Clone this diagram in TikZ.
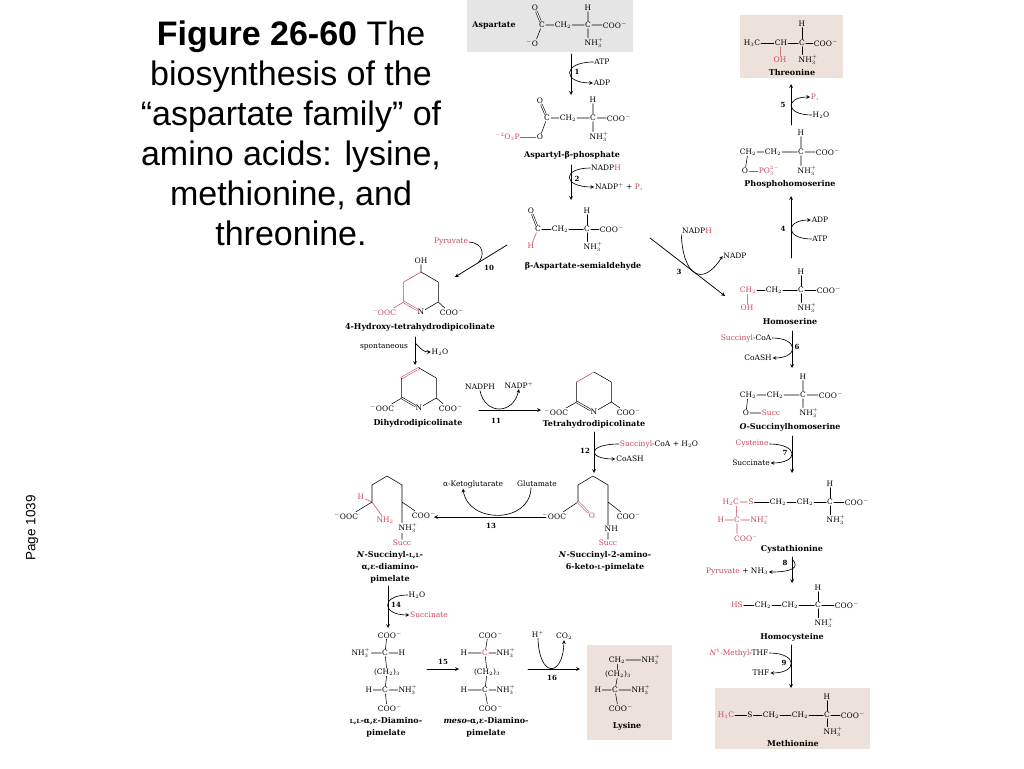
\documentclass[tikz,border=0pt]{standalone}
\usepackage{fontspec}
\setmainfont{DejaVu Serif}
\newfontfamily\titlefont{Liberation Sans}
\definecolor{chemred}{RGB}{201,72,88}
\definecolor{aspgray}{RGB}{229,229,229}
\definecolor{prodtan}{RGB}{236,226,219}
\newcommand{\nhp}{N\rlap{H$_3^+$}}
\newcommand{\coo}{COO\rlap{$^-$}}
\newcommand{\ooc}{\llap{$^-$}OOC}
\newcommand{\lsc}{{\fontsize{5.6}{6}\selectfont L}}
\begin{document}
\begin{tikzpicture}[>=stealth,line cap=round,line join=round,x=1pt,y=-1pt,
	chem/.style={font=\fontsize{7.5}{8}\selectfont,inner sep=0.7pt},
	rd/.style={chem,text=chemred},
	cpd/.style={font=\fontsize{8}{12}\selectfont\bfseries,inner sep=0.5pt,align=center},
	stepno/.style={font=\fontsize{7}{7}\selectfont\bfseries,inner sep=0.5pt},
	bond/.style={line width=0.55pt},
	dbond/.style={bond,double,double distance=1.1pt},
	rxn/.style={->,line width=0.75pt},
	sidearr/.style={->,line width=0.65pt}]
	\fill[white] (0,0) rectangle (1024,768);
	\useasboundingbox (0,0) rectangle (1024,768);
	\node[font=\titlefont\fontsize{34}{40}\selectfont,align=center,anchor=north,inner sep=0pt] (title) at (291,21) {\textbf{Figure 26-60} The\\biosynthesis of the\\“aspartate family” of\\amino acids: lysine,\\methionine, and\\threonine.};
	\node[font=\titlefont\fontsize{13.5}{14}\selectfont,rotate=90] (page) at (32,528) {Page 1039};
	
	\fill[aspgray] (467,0) rectangle (633,52);
	\path
	(494,25) node[cpd] (asp) {Aspartate}
	(542,25) node[chem] (asp-c1) {C}
	(535,8) node[chem] (asp-o1) {O}
	(535,43) node[chem] (asp-o2) {\llap{$^-$}O}
	(563,25) node[chem] (asp-cb) {CH$_2$}
	(588,25) node[chem] (asp-ca) {C}
	(588,8) node[chem] (asp-h) {H}
	(588,43) node[chem] (asp-n) {\nhp}
	(612,25) node[chem] (asp-coo) {\coo}
	;
	\draw[dbond] (asp-c1)--(asp-o1);
	\draw[bond] (asp-c1)--(asp-o2) (asp-c1)--(asp-cb)--(asp-ca)--(asp-coo) (asp-ca)--(asp-h) (asp-ca)--(asp-n);
	
	\path
	(571,54) coordinate (s1a)
	(571,95) coordinate (s1b)
	(602,62) node[chem] (atp1) {ATP}
	(602,83) node[chem] (adp1) {ADP}
	(577,72) node[stepno] (n1) {1}
	;
	\draw[rxn] (s1a)--(s1b);
	\draw[sidearr] (atp1.west) .. controls (562,62) and (562,83) .. (adp1.west);
	
	\path
	(547,118) node[chem] (ap-c1) {C}
	(540,101) node[chem] (ap-o1) {O}
	(540,137) node[chem] (ap-o2) {O}
	(512,137) node[rd] (ap-p) {\llap{$^{-2}$}O$_3$P}
	(568,118) node[chem] (ap-cb) {CH$_2$}
	(593,118) node[chem] (ap-ca) {C}
	(593,100) node[chem] (ap-h) {H}
	(593,137) node[chem] (ap-n) {\nhp}
	(616,118) node[chem] (ap-coo) {\coo}
	(572,155) node[cpd] (ap) {Aspartyl-β-phosphate}
	;
	\draw[dbond] (ap-c1)--(ap-o1);
	\draw[bond] (ap-c1)--(ap-o2) (ap-c1)--(ap-cb)--(ap-ca)--(ap-coo) (ap-ca)--(ap-h) (ap-ca)--(ap-n);
	\draw[bond,chemred] (ap-p)--(ap-o2);
	
	\path
	(571,165) coordinate (s2a)
	(571,200) coordinate (s2b)
	(606,168) node[chem] (nadph2) {NADP\textcolor{chemred}{H}}
	(619,187) node[chem] (nadp2) {NADP$^+$ + \textcolor{chemred}{P$_i$}}
	(577,179) node[stepno] (n2) {2}
	;
	\draw[rxn] (s2a)--(s2b);
	\draw[sidearr] (nadph2.west) .. controls (562,168) and (562,187) .. (nadp2.west);
	
	\path
	(538,229) node[chem] (asa-c1) {C}
	(531,211) node[chem] (asa-o) {O}
	(531,246) node[rd] (asa-h1) {H}
	(560,229) node[chem] (asa-cb) {CH$_2$}
	(587,229) node[chem] (asa-ca) {C}
	(587,211) node[chem] (asa-h) {H}
	(587,247) node[chem] (asa-n) {\nhp}
	(609,229) node[chem] (asa-coo) {\coo}
	(583,266) node[cpd] (asa) {β-Aspartate-semialdehyde}
	;
	\draw[dbond] (asa-c1)--(asa-o);
	\draw[bond] (asa-c1)--(asa-cb)--(asa-ca)--(asa-coo) (asa-ca)--(asa-h) (asa-ca)--(asa-n);
	\draw[bond,chemred] (asa-c1)--(asa-h1);
	
	\path
	(507,245) coordinate (s10a)
	(455,277) coordinate (s10b)
	(478,263) coordinate (s10m)
	(451,242) node[rd] (pyr10) {Pyruvate}
	(489,268) node[stepno] (n10) {10}
	;
	\draw[rxn] (s10a)--(s10b);
	\draw[line width=0.65pt] (pyr10.east) .. controls (484,243) and (485,256) .. (s10m);
	
	\path
	(650,238) coordinate (s3a)
	(725,296) coordinate (s3b)
	(697,231) node[chem] (nadph3) {NADP\textcolor{chemred}{H}}
	(735,256) node[chem] (nadp3) {NADP}
	(679,272) node[stepno] (n3) {3}
	;
	\draw[rxn] (s3a)--(s3b);
	\draw[sidearr] (nadph3.south west) .. controls (683,275) and (702,288) .. (nadp3.west);
	
	\fill[prodtan] (740,15) rectangle (843,78);
	\path
	(752,43) node[chem] (thr-c4) {H$_3$C}
	(781,43) node[chem] (thr-c3) {CH}
	(802,43) node[chem] (thr-ca) {C}
	(802,24) node[chem] (thr-h) {H}
	(823,43) node[chem] (thr-coo) {\coo}
	(780,60) node[rd] (thr-oh) {OH}
	(802,60) node[chem] (thr-n) {\nhp}
	(792,73) node[cpd] (thr) {Threonine}
	;
	\draw[bond] (thr-c4)--(thr-c3)--(thr-ca)--(thr-coo) (thr-ca)--(thr-h) (thr-ca)--(thr-n);
	\draw[bond,chemred] (thr-c3)--(thr-oh);
	
	\path
	(791,125) coordinate (s5a)
	(791,84) coordinate (s5b)
	(815,97) node[rd] (pi5) {P$_i$}
	(821,115) node[chem] (h2o5) {H$_2$O}
	(783,105) node[stepno] (n5) {5}
	;
	\draw[rxn] (s5a)--(s5b);
	\draw[sidearr] (h2o5.west) .. controls (785,115) and (785,97) .. (pi5.west);
	
	\path
	(748,152) node[chem] (phs-cg) {CH$_2$}
	(773,152) node[chem] (phs-cb) {CH$_2$}
	(801,152) node[chem] (phs-ca) {C}
	(801,133) node[chem] (phs-h) {H}
	(825,152) node[chem] (phs-coo) {\coo}
	(745,171) node[chem] (phs-o) {O}
	(769,171) node[rd] (phs-p) {PO$_3^{2-}$}
	(801,171) node[chem] (phs-n) {\nhp}
	(790,184) node[cpd] (phs) {Phosphohomoserine}
	;
	\draw[bond] (phs-cg)--(phs-cb)--(phs-ca)--(phs-coo) (phs-ca)--(phs-h) (phs-ca)--(phs-n) (phs-cg)--(phs-o);
	\draw[bond,chemred] (phs-o)--(phs-p);
	
	\path
	(791,258) coordinate (s4a)
	(791,196) coordinate (s4b)
	(820,220) node[chem] (adp4) {ADP}
	(820,239) node[chem] (atp4) {ATP}
	(783,229) node[stepno] (n4) {4}
	;
	\draw[rxn] (s4a)--(s4b);
	\draw[sidearr] (atp4.west) .. controls (785,239) and (785,220) .. (adp4.west);
	
	\path
	(748,290) node[rd] (hse-cg) {CH$_2$}
	(774,290) node[chem] (hse-cb) {CH$_2$}
	(801,290) node[chem] (hse-ca) {C}
	(801,272) node[chem] (hse-h) {H}
	(826,290) node[chem] (hse-coo) {\coo}
	(747,308) node[rd] (hse-oh) {OH}
	(801,308) node[chem] (hse-n) {\nhp}
	(790,322) node[cpd] (hse) {Homoserine}
	;
	\draw[bond] (hse-cg)--(hse-cb)--(hse-ca)--(hse-coo) (hse-ca)--(hse-h) (hse-ca)--(hse-n);
	\draw[bond,chemred] (hse-cg)--(hse-oh);
	
	\path
	(792,331) coordinate (s6a)
	(792,368) coordinate (s6b)
	(746,338) node[chem] (succoa6) {\textcolor{chemred}{Succinyl}-CoA}
	(758,358) node[chem] (coash6) {CoASH}
	(797,347) node[stepno] (n6) {6}
	;
	\draw[rxn] (s6a)--(s6b);
	\draw[sidearr] (succoa6.east) .. controls (799,338) and (799,358) .. (coash6.east);
	
	\path
	(748,395) node[chem] (osh-cg) {CH$_2$}
	(775,395) node[chem] (osh-cb) {CH$_2$}
	(803,395) node[chem] (osh-ca) {C}
	(803,377) node[chem] (osh-h) {H}
	(828,395) node[chem] (osh-coo) {\coo}
	(746,413) node[chem] (osh-o) {O}
	(771,413) node[rd] (osh-succ) {Succ}
	(803,413) node[chem] (osh-n) {\nhp}
	(790,427) node[cpd] (osh) {\textit{O}-Succinylhomoserine}
	;
	\draw[bond] (osh-cg)--(osh-cb)--(osh-ca)--(osh-coo) (osh-ca)--(osh-h) (osh-ca)--(osh-n) (osh-cg)--(osh-o)--(osh-succ);
	
	\path
	(792,436) coordinate (s7a)
	(792,473) coordinate (s7b)
	(752,444) node[rd] (cys7) {Cysteine}
	(751,463) node[chem] (succ7) {Succinate}
	(785,453) node[stepno] (n7) {7}
	;
	\draw[rxn] (s7a)--(s7b);
	\draw[sidearr] (cys7.east) .. controls (799,444) and (799,463) .. (succ7.east);
	
	\path
	(736,502) node[rd] (cth-c1) {\llap{H$_2$}C}
	(751,502) node[rd] (cth-s) {S}
	(778,502) node[chem] (cth-cb) {CH$_2$}
	(805,502) node[chem] (cth-cg) {CH$_2$}
	(830,502) node[chem] (cth-ca) {C}
	(830,484) node[chem] (cth-h) {H}
	(854,502) node[chem] (cth-coo) {\coo}
	(830,520) node[chem] (cth-n) {\nhp}
	(737,520) node[rd] (cth-c2) {C}
	(721,520) node[rd] (cth-h2) {H}
	(760,520) node[rd] (cth-n2) {NH$_3^+$}
	(737,538) node[rd] (cth-coo2) {C\rlap{OO$^-$}}
	(792,549) node[cpd] (cth) {Cystathionine}
	;
	\draw[bond,chemred] (cth-c1)--(cth-s) (cth-c1)--(cth-c2) (cth-h2)--(cth-c2)--(cth-n2) (cth-c2)--(cth-coo2);
	\draw[bond] (cth-s)--(cth-cb)--(cth-cg)--(cth-ca)--(cth-coo) (cth-ca)--(cth-h) (cth-ca)--(cth-n);
	
	\path
	(792,557) coordinate (s8a)
	(792,583) coordinate (s8b)
	(792,559) coordinate (s8m)
	(737,572) node[chem] (pyr8) {\textcolor{chemred}{Pyruvate} + NH$_3$}
	(785,563) node[stepno] (n8) {8}
	;
	\draw[rxn] (s8a)--(s8b);
	\draw[sidearr] (s8m) .. controls (800,567) and (793,572) .. (pyr8.east);
	
	\path
	(737,605) node[rd] (hcy-hs) {HS}
	(763,605) node[chem] (hcy-cg) {CH$_2$}
	(790,605) node[chem] (hcy-cb) {CH$_2$}
	(818,605) node[chem] (hcy-ca) {C}
	(818,588) node[chem] (hcy-h) {H}
	(844,605) node[chem] (hcy-coo) {\coo}
	(818,623) node[chem] (hcy-n) {\nhp}
	(792,637) node[cpd] (hcy) {Homocysteine}
	;
	\draw[bond] (hcy-hs)--(hcy-cg)--(hcy-cb)--(hcy-ca)--(hcy-coo) (hcy-ca)--(hcy-h) (hcy-ca)--(hcy-n);
	
	\path
	(791,645) coordinate (s9a)
	(791,688) coordinate (s9b)
	(739,653) node[chem] (mthf9) {\textcolor{chemred}{\textit{N}$^5$-Methyl}-THF}
	(761,673) node[chem] (thf9) {THF}
	(784,663) node[stepno] (n9) {9}
	;
	\draw[rxn] (s9a)--(s9b);
	\draw[sidearr] (mthf9.east) .. controls (798,653) and (798,673) .. (thf9.east);
	
	\fill[prodtan] (715,688) rectangle (870,749);
	\path
	(726,715) node[rd] (met-c) {H$_3$C}
	(750,715) node[chem] (met-s) {S}
	(771,715) node[chem] (met-cg) {CH$_2$}
	(800,715) node[chem] (met-cb) {CH$_2$}
	(827,715) node[chem] (met-ca) {C}
	(827,697) node[chem] (met-h) {H}
	(850,715) node[chem] (met-coo) {\coo}
	(827,732) node[chem] (met-n) {\nhp}
	(793,744) node[cpd] (met) {Methionine}
	;
	\draw[bond] (met-c)--(met-s)--(met-cg)--(met-cb)--(met-ca)--(met-coo) (met-ca)--(met-h) (met-ca)--(met-n);
	
	\path
	(421,261) node[chem] (hyd-oh) {OH}
	(421,272) coordinate (hyd-1)
	(403.7,282) coordinate (hyd-2)
	(403.7,302) coordinate (hyd-3)
	(421,312) node[chem] (hyd-n) {N}
	(438.3,302) coordinate (hyd-5)
	(438.3,282) coordinate (hyd-6)
	(387,312) node[rd] (hyd-ooc) {\ooc}
	(449,312) node[chem] (hyd-coo) {\coo}
	(420,327) node[cpd] (hyd) {4-Hydroxy-tetrahydrodipicolinate}
	;
	\draw[bond] (hyd-oh)--(hyd-1)--(hyd-6)--(hyd-5)--(hyd-n) (hyd-5)--(hyd-coo);
	\draw[bond,chemred] (hyd-1)--(hyd-2)--(hyd-3)--(hyd-ooc);
	\draw[dbond,draw=chemred] (hyd-3)--(hyd-n);
	
	\path
	(415,337) coordinate (spo-a)
	(415,365) coordinate (spo-b)
	(415,343) coordinate (spo-m)
	(384,347) node[chem] (spo) {spontaneous}
	(440,352) node[chem] (h2o-spo) {H$_2$O}
	;
	\draw[rxn] (spo-a)--(spo-b);
	\draw[sidearr] (spo-m) .. controls (420,347) and (422,352) .. (h2o-spo.west);
	
	\path
	(419,368) coordinate (dhd-1)
	(401.7,378) coordinate (dhd-2)
	(401.7,398) coordinate (dhd-3)
	(419,408) node[chem] (dhd-n) {N}
	(436.3,398) coordinate (dhd-5)
	(436.3,378) coordinate (dhd-6)
	(385,408) node[chem] (dhd-ooc) {\ooc}
	(448,408) node[chem] (dhd-coo) {\coo}
	(418,423) node[cpd] (dhd) {Dihydrodipicolinate}
	;
	\draw[dbond,draw=chemred] (dhd-1)--(dhd-2);
	\draw[bond] (dhd-2)--(dhd-3)--(dhd-ooc) (dhd-n)--(dhd-5)--(dhd-6)--(dhd-1) (dhd-5)--(dhd-coo);
	\draw[dbond] (dhd-3)--(dhd-n);
	
	\path
	(479,410) coordinate (s11a)
	(541,410) coordinate (s11b)
	(480,387) node[chem] (nadph11) {NADPH}
	(519,385) node[chem] (nadp11) {NADP$^+$}
	(496,421) node[stepno] (n11) {11}
	;
	\draw[rxn] (s11a)--(s11b);
	\draw[sidearr] (nadph11.south) .. controls (485,415) and (513,415) .. (nadp11.south);
	
	\path
	(594,372) coordinate (thd-1)
	(576.7,382) coordinate (thd-2)
	(576.7,402) coordinate (thd-3)
	(594,412) node[chem] (thd-n) {N}
	(611.3,402) coordinate (thd-5)
	(611.3,382) coordinate (thd-6)
	(559,412) node[chem] (thd-ooc) {\ooc}
	(626,412) node[chem] (thd-coo) {\coo}
	(594,424) node[cpd] (thd) {Tetrahydrodipicolinate}
	;
	\draw[bond,chemred] (thd-2)--(thd-1);
	\draw[bond] (thd-1)--(thd-6)--(thd-5)--(thd-n) (thd-2)--(thd-3)--(thd-ooc) (thd-5)--(thd-coo);
	\draw[dbond] (thd-3)--(thd-n);
	
	\path
	(594,432) coordinate (s12a)
	(594,473) coordinate (s12b)
	(659,444) node[chem] (succoa12) {\textcolor{chemred}{Succinyl}-CoA + H$_2$O}
	(630,459) node[chem] (coash12) {CoASH}
	(585,451) node[stepno] (n12) {12}
	;
	\draw[rxn] (s12a)--(s12b);
	\draw[sidearr] (succoa12.west) .. controls (587,444) and (587,459) .. (coash12.west);
	
	\path
	(578,502) coordinate (nsk-1)
	(578,485) coordinate (nsk-2)
	(593,476) coordinate (nsk-3)
	(608,485) coordinate (nsk-4)
	(608,502) coordinate (nsk-5)
	(557,516) node[chem] (nsk-ooc) {\ooc}
	(592,516) node[rd] (nsk-o) {O}
	(626,516) node[chem] (nsk-coo) {\coo}
	(608,529) node[chem] (nsk-nh) {N\rlap{H}}
	(608,543) node[rd] (nsk-succ) {Succ}
	(605,561) node[cpd] (nsk) {\textit{N}-Succinyl-2-amino-\\6-keto-\lsc-pimelate}
	;
	\draw[bond] (nsk-1)--(nsk-2)--(nsk-3)--(nsk-4)--(nsk-5)--(nsk-coo) (nsk-1)--(nsk-ooc) (nsk-5)--(nsk-nh)--(nsk-succ);
	\draw[dbond,draw=chemred] (nsk-1)--(nsk-o);
	
	\path
	(546,517) coordinate (s13a)
	(434,517) coordinate (s13b)
	(473,484) node[chem] (akg) {α-Ketoglutarate}
	(537,484) node[chem] (glu) {Glutamate}
	(491,526) node[stepno] (n13) {13}
	;
	\draw[rxn] (s13a)--(s13b);
	\draw[sidearr] ([xshift=-6pt]glu.south) .. controls (530,524) and (468,524) .. ([xshift=-10pt]akg.south);
	
	\path
	(372,502) coordinate (nsd-1)
	(372,485) coordinate (nsd-2)
	(387,476) coordinate (nsd-3)
	(402,485) coordinate (nsd-4)
	(402,502) coordinate (nsd-5)
	(349,516) node[chem] (nsd-ooc) {\ooc}
	(361,497) node[rd] (nsd-h) {H}
	(385,520) node[rd] (nsd-nh2) {NH$_2$}
	(421,515) node[chem] (nsd-coo) {\coo}
	(402,528) node[chem] (nsd-n) {\nhp}
	(402,543) node[rd] (nsd-succ) {Succ}
	(390,567) node[cpd] (nsd) {\textit{N}-Succinyl-\lsc,\lsc-\\α,ε-diamino-\\pimelate}
	;
	\draw[bond] (nsd-1)--(nsd-2)--(nsd-3)--(nsd-4)--(nsd-5)--(nsd-coo) (nsd-1)--(nsd-ooc) (nsd-5)--(nsd-n)--(nsd-succ);
	\draw[bond,chemred] (nsd-1)--(nsd-h) (nsd-1)--(nsd-nh2);
	
	\path
	(388,586) coordinate (s14a)
	(388,628) coordinate (s14b)
	(417,595) node[chem] (h2o14) {H$_2$O}
	(429,615) node[rd] (succ14) {Succinate}
	(396,605) node[stepno] (n14) {14}
	;
	\draw[rxn] (s14a)--(s14b);
	\draw[sidearr] (h2o14.west) .. controls (381,595) and (381,615) .. (succ14.west);
	
	\path
	(387,635) node[chem] (ldp-c1) {\coo}
	(385,653) node[chem] (ldp-c2) {C}
	(361,653) node[chem] (ldp-n2) {NH$_3^+$}
	(402,653) node[chem] (ldp-h2) {H}
	(387,672) node[chem] (ldp-ch2) {(CH$_2$)$_3$}
	(385,690) node[chem] (ldp-c6) {C}
	(369,690) node[chem] (ldp-h6) {H}
	(408,690) node[chem] (ldp-n6) {NH$_3^+$}
	(387,708) node[chem] (ldp-c7) {\coo}
	(386,727) node[cpd] (ldp) {\lsc,\lsc-α,ε-Diamino-\\pimelate}
	;
	\draw[bond] (ldp-c1)--(ldp-c2)--(ldp-ch2)--(ldp-c6)--(ldp-c7) (ldp-n2)--(ldp-c2)--(ldp-h2) (ldp-h6)--(ldp-c6)--(ldp-n6);
	
	\path
	(427,669) coordinate (s15a)
	(459,669) coordinate (s15b)
	(443,662) node[stepno] (n15) {15}
	;
	\draw[rxn] (s15a)--(s15b);
	
	\path
	(488,635) node[chem] (mdp-c1) {\coo}
	(485,653) node[rd] (mdp-c2) {C}
	(464,653) node[chem] (mdp-h2) {H}
	(506,653) node[chem] (mdp-n2) {NH$_3^+$}
	(487,672) node[chem] (mdp-ch2) {(CH$_2$)$_3$}
	(485,690) node[chem] (mdp-c6) {C}
	(464,690) node[chem] (mdp-h6) {H}
	(506,690) node[chem] (mdp-n6) {NH$_3^+$}
	(488,708) node[chem] (mdp-c7) {\coo}
	(486,727) node[cpd] (mdp) {\textit{meso}-α,ε-Diamino-\\pimelate}
	;
	\draw[bond] (mdp-c1)--(mdp-c2)--(mdp-ch2)--(mdp-c6)--(mdp-c7) (mdp-h2)--(mdp-c2)--(mdp-n2) (mdp-h6)--(mdp-c6)--(mdp-n6);
	
	\path
	(528,669) coordinate (s16a)
	(580,669) coordinate (s16b)
	(538,634) node[chem] (hplus) {H$^+$}
	(564,636) node[chem] (co2) {CO$_2$}
	(552,678) node[stepno] (n16) {16}
	;
	\draw[rxn] (s16a)--(s16b);
	\draw[sidearr] (hplus.south) .. controls (539,678) and (563,678) .. (co2.south);
	
	\fill[prodtan] (587,645) rectangle (672,740);
	\path
	(617,660) node[chem] (lys-c6) {CH$_2$}
	(651,660) node[chem] (lys-n6) {NH$_3^+$}
	(618,674) node[chem] (lys-ch2) {(CH$_2$)$_3$}
	(615,690) node[chem] (lys-ca) {C}
	(598,690) node[chem] (lys-h) {H}
	(641,690) node[chem] (lys-n) {NH$_3^+$}
	(618,708) node[chem] (lys-coo) {\coo}
	(627,726) node[cpd] (lys) {Lysine}
	;
	\draw[bond] (lys-c6)--(lys-n6) (lys-c6)--(lys-ch2)--(lys-ca)--(lys-coo) (lys-h)--(lys-ca)--(lys-n);
\end{tikzpicture}
\end{document}
